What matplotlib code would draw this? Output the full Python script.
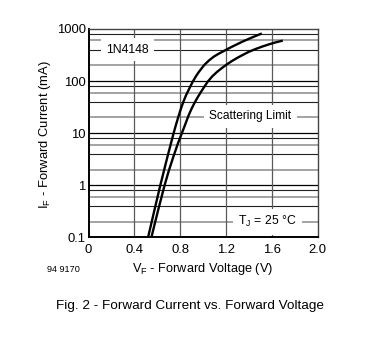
import matplotlib
matplotlib.use("Agg")
import matplotlib.pyplot as plt

plt.rcParams['font.family'] = ['Liberation Sans', 'DejaVu Sans']

# Forward characteristic, lower scattering limit (V, mA)
vf_low = [0.519, 0.570, 0.626, 0.685, 0.742, 0.765, 0.788, 0.810, 0.830, 0.850, 0.866, 0.888,
          0.909, 0.935, 0.960, 0.985, 1.010, 1.050, 1.090, 1.130, 1.169, 1.210, 1.250, 1.300,
          1.343, 1.380, 1.420, 1.460, 1.502]
if_low = [0.1, 0.302, 1.0, 3.31, 10.0, 15.1, 22.3, 31.5, 41.5, 53.2, 62.7, 79.1,
          97.0, 121.9, 147.2, 173.8, 204.2, 247.7, 291.1, 329.6, 365.6, 409.3, 453.9, 512.9,
          570.2, 619.4, 676.1, 736.2, 801.7]

# Forward characteristic, upper scattering limit (V, mA)
vf_high = [0.548, 0.605, 0.663, 0.700, 0.740, 0.780, 0.814, 0.845, 0.874, 0.900, 0.930, 0.955,
           0.982, 1.010, 1.039, 1.080, 1.120, 1.160, 1.200, 1.250, 1.300, 1.350, 1.400, 1.460,
           1.520, 1.580, 1.630, 1.684]
if_high = [0.1, 0.321, 1.0, 1.90, 3.55, 6.40, 10.0, 15.1, 22.3, 29.9, 40.2, 50.1,
           62.7, 77.8, 97.0, 123.6, 149.3, 175.4, 204.2, 241.5, 280.5, 320.6, 365.6, 414.0,
           462.4, 510.5, 550.8, 588.8]

x_ticks = [0, 0.4, 0.8, 1.2, 1.6, 2.0]
x_tick_labels = ["0", "0.4", "0.8", "1.2", "1.6", "2.0"]
y_ticks = [0.1, 1, 10, 100, 1000]
y_tick_labels = ["0.1", "1", "10", "100", "1000"]

fig = plt.figure(figsize=(3.9, 3.4), dpi=100)
ax = fig.add_axes([0.227, 0.3015, 0.588, 0.6135])
ax.set_xlim(0, 2.0)
ax.set_yscale('log')
ax.set_ylim(0.1, 1000)

# horizontal grid: decades black, 2/4/6/8 alternating gray and dark
for dec in [0.1, 1, 10, 100]:
    for m, col, lw in [(2, '#8a8a8a', 1.1), (4, '#222222', 0.8), (6, '#8a8a8a', 1.1), (8, '#222222', 0.8)]:
        ax.axhline(dec * m, color=col, lw=lw, zorder=1)
    if dec > 0.1:
        ax.axhline(dec, color='black', lw=0.9, zorder=1)
for xv in [0.4, 0.8, 1.2, 1.6]:
    ax.axvline(xv, color='#5a5a5a', lw=0.9, zorder=1)

ax.plot(vf_low, if_low, color='black', lw=1.7, zorder=3, solid_joinstyle='round')
ax.plot(vf_high, if_high, color='black', lw=1.7, zorder=3, solid_joinstyle='round')

box = dict(boxstyle='square,pad=0.45', fc='white', ec='none')
ax.text(0.34, 400, "1N4148", fontsize=8.8, ha='center', va='center', bbox=box, zorder=2)
ax.text(1.41, 21, "Scattering Limit", fontsize=8.6, ha='center', va='center', bbox=box, zorder=2)
ax.text(1.56, 0.2, r"T$_\mathregular{J}$ = 25 °C", fontsize=8.8, ha='center', va='center', bbox=box, zorder=2)

ax.set_xticks(x_ticks)
ax.set_xticklabels(x_tick_labels)
ax.set_yticks(y_ticks)
ax.set_yticklabels(y_tick_labels)
ax.minorticks_off()
ax.tick_params(axis='both', length=0, labelsize=9.4)
ax.tick_params(axis='x', pad=5)
ax.tick_params(axis='y', pad=2)

for s in ['left', 'bottom']:
    ax.spines[s].set_linewidth(1.4)
    ax.spines[s].set_color('black')
for s in ['top', 'right']:
    ax.spines[s].set_linewidth(1.0)
    ax.spines[s].set_color('#444444')

fig.text(45 / 390, 1 - 135 / 340, r"I$_\mathregular{F}$ - Forward Current (mA)", fontsize=9.4,
         rotation=90, ha='center', va='center')
fig.text(203 / 390, 1 - 269 / 340, r"V$_\mathregular{F}$ - Forward Voltage (V)", fontsize=9.2,
         ha='center', va='center')
fig.text(47 / 390, 1 - 269 / 340, "94 9170", fontsize=6.6, ha='left', va='center')
fig.text(190 / 390, 1 - 306 / 340, "Fig. 2 - Forward Current vs. Forward Voltage", fontsize=9.7,
         ha='center', va='center')

fig.savefig("out.png", dpi=100)
